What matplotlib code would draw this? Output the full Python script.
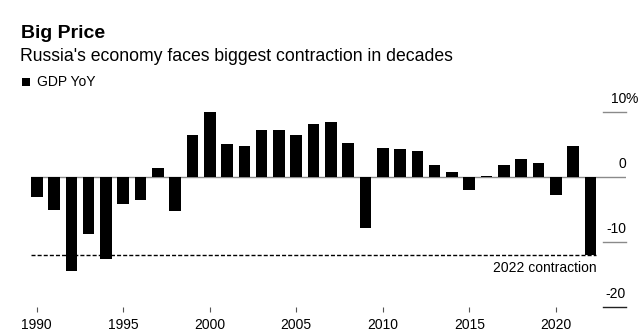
import matplotlib
matplotlib.use("Agg")
import matplotlib.pyplot as plt
import matplotlib.transforms as mtransforms
from matplotlib.patches import Rectangle

plt.rcParams["font.family"] = ["Liberation Sans", "DejaVu Sans"]

years = list(range(1990, 2023))
gdp_yoy = [-3.0, -5.0, -14.5, -8.7, -12.6, -4.1, -3.6, 1.4, -5.3, 6.4,
           10.0, 5.1, 4.7, 7.3, 7.2, 6.4, 8.2, 8.5, 5.2, -7.8,
           4.5, 4.3, 4.0, 1.8, 0.7, -2.0, 0.2, 1.8, 2.8, 2.2,
           -2.7, 4.7, -12.0]
contraction_2022 = -12.0
contraction_label = "2022 contraction"
y_ticks = [10, 0, -10, -20]
y_tick_labels = ["10", "0", "-10", "-20"]
x_ticks = [1990, 1995, 2000, 2005, 2010, 2015, 2020]

W, H = 643, 332
fig = plt.figure(figsize=(W / 100, H / 100), dpi=100)
ax = fig.add_axes([31 / W, 1 - 307 / H, 595 / W, 208 / H])

bar_w = 0.67
ax.bar(years, gdp_yoy, width=bar_w, color="black", linewidth=0, zorder=3)
ax.set_xlim(years[0] - bar_w / 2, 2024.06)
ax.set_ylim(-20, 12)

ax.axhline(0, color="#8a8a8a", lw=1.0, zorder=2)
ax.hlines(contraction_2022, years[0] - bar_w / 2, years[-1] + bar_w / 2,
          colors="black", lw=1.0, linestyles=(0, (2.9, 1.5)), zorder=2)
ax.annotate(contraction_label, xy=(years[-1] + bar_w / 2, contraction_2022),
            xytext=(0, -4), textcoords="offset points", ha="right", va="top",
            fontsize=10, color="black")

# right-hand value labels with short tick lines
trans = mtransforms.blended_transform_factory(ax.transAxes, ax.transData)
tick_x0 = (603 - 31) / 595
for v, lab in zip(y_ticks, y_tick_labels):
    if v != 0:
        ax.axhline(v, xmin=tick_x0, xmax=1, color="#222222" if v == -20 else "#8a8a8a",
                   lw=1.0, clip_on=False)
    ax.annotate(lab, xy=(1, v), xycoords=trans, xytext=(0, 6.3),
                textcoords="offset points", ha="right", va="baseline", fontsize=10)
    if v == 10:
        ax.annotate("%", xy=(1, v), xycoords=trans, xytext=(0, 6.3),
                    textcoords="offset points", ha="left", va="baseline", fontsize=10)

for s in ax.spines.values():
    s.set_visible(False)
ax.set_yticks([])
ax.set_xticks(x_ticks)
ax.set_xticklabels([str(x) for x in x_ticks])
ax.tick_params(axis="x", length=3.6, width=0.8, color="#555555", pad=4, labelsize=10)

fig.text(21 / W, 1 - 38 / H, "Big Price", fontsize=14, fontweight="bold", va="baseline")
fig.text(20 / W, 1 - 61 / H, "Russia's economy faces biggest contraction in decades",
         fontsize=12.7, va="baseline")
fig.patches.append(Rectangle((22 / W, 1 - 86 / H), 8 / W, 8 / H, transform=fig.transFigure,
                             facecolor="black", edgecolor="none"))
fig.text(37 / W, 1 - 86 / H, "GDP YoY", fontsize=10, va="baseline")

fig.savefig("out.png", dpi=100)
